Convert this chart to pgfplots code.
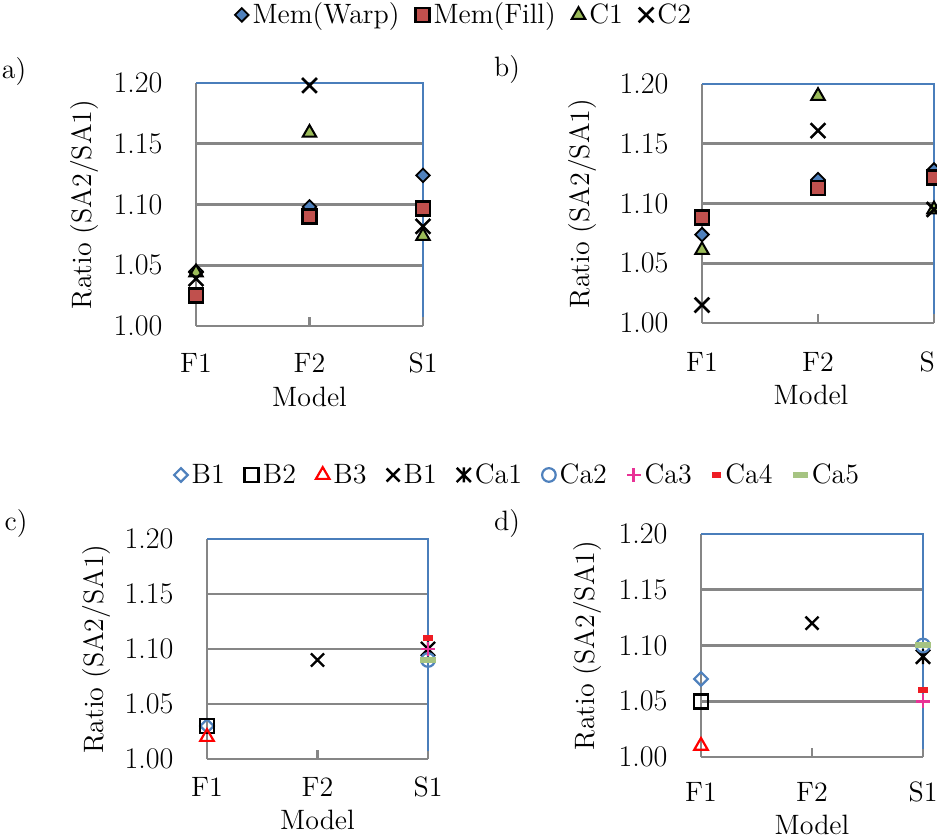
\documentclass[border=0pt]{standalone}
\usepackage{pgfplots}
\pgfplotsset{compat=1.18}
\definecolor{mblue}{RGB}{79,129,189}
\definecolor{mred}{RGB}{192,80,77}
\definecolor{mgreen}{RGB}{155,187,89}
\definecolor{gridgray}{RGB}{134,134,134}
\definecolor{axblue}{RGB}{74,126,187}
\definecolor{pinkc}{RGB}{232,50,150}
\definecolor{lgreen}{RGB}{166,196,130}
\definecolor{redc}{RGB}{238,28,36}
\newcommand{\fs}{\fontsize{14}{16}\selectfont}
\newcommand{\yfs}{\fontsize{15}{17}\selectfont}
\newcommand{\lfs}{\fontsize{14}{16}\selectfont}
\pgfdeclareplotmark{xstar}{%
 \pgfpathmoveto{\pgfqpointpolar{45}{\pgfplotmarksize}}\pgfpathlineto{\pgfqpointpolar{225}{\pgfplotmarksize}}%
 \pgfpathmoveto{\pgfqpointpolar{135}{\pgfplotmarksize}}\pgfpathlineto{\pgfqpointpolar{315}{\pgfplotmarksize}}%
 \pgfpathmoveto{\pgfqpoint{0pt}{0.75\pgfplotmarksize}}\pgfpathlineto{\pgfqpoint{0pt}{-0.75\pgfplotmarksize}}%
 \pgfusepathqstroke}
\pgfplotsset{
 panel/.style={
  scale only axis,
  xmin=0, xmax=2, ymin=1, ymax=1.2,
  xtick={0,1,2}, xticklabels={F1,F2,S1},
  ytick={1,1.05,1.1,1.15,1.2}, yticklabels={1.00,1.05,1.10,1.15,1.20},
  axis x line*=bottom, axis y line*=left,
  axis line style={draw=gridgray, line width=1.3pt, -},
  ymajorgrids, grid style={draw=gridgray, line width=1.3pt},
  tick align=inside,
  xtick style={draw=gridgray, line width=1.3pt},
  major tick length=4.5pt,
  ytick style={draw=none},
  xticklabel style={font=\fs},
  label style={font=\fs},
  yticklabel style={font=\yfs, anchor=east, xshift=-13.3pt},
  clip=false,
 },
 border/.style={draw=axblue, line width=1.3pt, mark=none, forget plot, sharp plot},
 warp/.style={only marks, mark=square*, mark size=2.4pt, mark options={rotate=45, fill=mblue, draw=black, line width=0.9pt}},
 mfill/.style={only marks, mark=square*, mark size=3.5pt, mark options={fill=mred, draw=black, line width=1.4pt}},
 c1/.style={only marks, mark=triangle*, mark size=3.9pt, mark options={fill=mgreen, draw=black, line width=1pt}},
 c2/.style={only marks, mark=x, mark size=5.2pt, mark options={draw=black, line width=1.3pt}},
 b1/.style={only marks, mark=square, mark size=2.4pt, mark options={rotate=45, draw=mblue, line width=1.1pt}},
 b2/.style={only marks, mark=square, mark size=3.5pt, mark options={draw=black, line width=1.4pt}},
 b3/.style={only marks, mark=triangle, mark size=3.9pt, mark options={draw=red, line width=1.1pt}},
 bx/.style={only marks, mark=x, mark size=4.6pt, mark options={draw=black, line width=1.2pt}},
 ca1/.style={only marks, mark=xstar, mark size=5pt, mark options={draw=black, line width=1.2pt}},
 ca2/.style={only marks, mark=o, mark size=3.4pt, mark options={draw=mblue, line width=1.1pt}},
 ca3/.style={only marks, mark=+, mark size=3.4pt, mark options={draw=pinkc, line width=1.3pt}},
 ca4/.style={only marks, mark=-, mark size=2.4pt, mark options={draw=redc, line width=2.6pt}},
 ca5/.style={only marks, mark=-, mark size=3.8pt, mark options={draw=lgreen, line width=3pt}},
}
\begin{document}
\begin{tikzpicture}
\useasboundingbox (0,0) rectangle (468.5pt,420pt);
% panel a
\begin{axis}[panel, at={(98pt,257pt)}, anchor=south west, width=113.5pt, height=121.5pt,
  xticklabel style={anchor=center, yshift=-18.5pt},
  xlabel={Model}, xlabel style={at={(axis description cs:0.5,-0.292)}, anchor=center},
  ylabel={Ratio (SA2/SA1)}, ylabel style={at={(axis description cs:-0.489,0.5)}, anchor=center},
  legend style={at={(axis description cs:1.185,1.28)}, anchor=center, draw=none, fill=none,
    legend columns=-1, font=\lfs, /tikz/every even column/.append style={column sep=6pt}}]
\addplot[border] coordinates {(0,1.2) (2,1.2) (2,1.0075)};
\addplot[warp] coordinates {(0,1.045) (1,1.098) (2,1.124)};
\addplot[mfill] coordinates {(0,1.025) (1,1.090) (2,1.097)};
\addplot[c1] coordinates {(0,1.044) (1,1.159) (2,1.074)};
\addplot[c2] coordinates {(0,1.039) (1,1.198) (2,1.082)};
\legend{Mem(Warp),Mem(Fill),C1,C2}
\end{axis}
% panel b
\begin{axis}[panel, at={(351pt,258.5pt)}, anchor=south west, width=116pt, height=119.5pt,
  xticklabel style={anchor=center, yshift=-19.3pt},
  xlabel={Model}, xlabel style={at={(axis description cs:0.47,-0.301)}, anchor=center},
  ylabel={Ratio (SA2/SA1)}, ylabel style={at={(axis description cs:-0.513,0.5)}, anchor=center}]
\addplot[border] coordinates {(0,1.2) (2,1.2) (2,1.0075)};
\addplot[warp] coordinates {(0,1.074) (1,1.120) (2,1.128)};
\addplot[mfill] coordinates {(0,1.088) (1,1.113) (2,1.122)};
\addplot[c1] coordinates {(0,1.061) (1,1.190) (2,1.095)};
\addplot[c2] coordinates {(0,1.015) (1,1.161) (2,1.095)};
\end{axis}
% panel c
\begin{axis}[panel, at={(103.5pt,40.5pt)}, anchor=south west, width=110.5pt, height=110pt,
  xticklabel style={anchor=center, yshift=-14pt},
  xlabel={Model}, xlabel style={at={(axis description cs:0.5,-0.277)}, anchor=center},
  ylabel={Ratio (SA2/SA1)}, ylabel style={at={(axis description cs:-0.498,0.5)}, anchor=center},
  legend style={at={(axis description cs:1.41,1.291)}, anchor=center, draw=none, fill=none,
    legend columns=-1, font=\lfs, /tikz/every even column/.append style={column sep=8pt}}]
\addplot[border] coordinates {(0,1.2) (2,1.2) (2,1.0075)};
\addplot[b1] coordinates {(0,1.03)};
\addplot[b2] coordinates {(0,1.03)};
\addplot[b3] coordinates {(0,1.02)};
\addplot[bx] coordinates {(1,1.09)};
\addplot[ca1] coordinates {(2,1.10)};
\addplot[ca2] coordinates {(2,1.09)};
\addplot[ca3] coordinates {(2,1.10)};
\addplot[ca4] coordinates {(2,1.11)};
\addplot[ca5] coordinates {(2,1.09)};
\legend{B1,B2,B3,B1,Ca1,Ca2,Ca3,Ca4,Ca5}
\end{axis}
% panel d
\begin{axis}[panel, at={(350.5pt,41.5pt)}, anchor=south west, width=111pt, height=111.5pt,
  xticklabel style={anchor=center, yshift=-17.5pt},
  xlabel={Model}, xlabel style={at={(axis description cs:0.5,-0.305)}, anchor=center},
  ylabel={Ratio (SA2/SA1)}, ylabel style={at={(axis description cs:-0.509,0.5)}, anchor=center}]
\addplot[border] coordinates {(0,1.2) (2,1.2) (2,1.0075)};
\addplot[b1] coordinates {(0,1.07)};
\addplot[b2] coordinates {(0,1.05)};
\addplot[b3] coordinates {(0,1.01)};
\addplot[bx] coordinates {(1,1.12)};
\addplot[ca1] coordinates {(2,1.09)};
\addplot[ca2] coordinates {(2,1.10)};
\addplot[ca3] coordinates {(2,1.05)};
\addplot[ca4] coordinates {(2,1.06)};
\addplot[ca5] coordinates {(2,1.10)};
\end{axis}
\node[font=\fs] at (7pt,384pt) {a)};
\node[font=\fs] at (253.5pt,385pt) {b)};
\node[font=\fs] at (8pt,158pt) {c)};
\node[font=\fs] at (253.5pt,158pt) {d)};
\end{tikzpicture}
\end{document}
